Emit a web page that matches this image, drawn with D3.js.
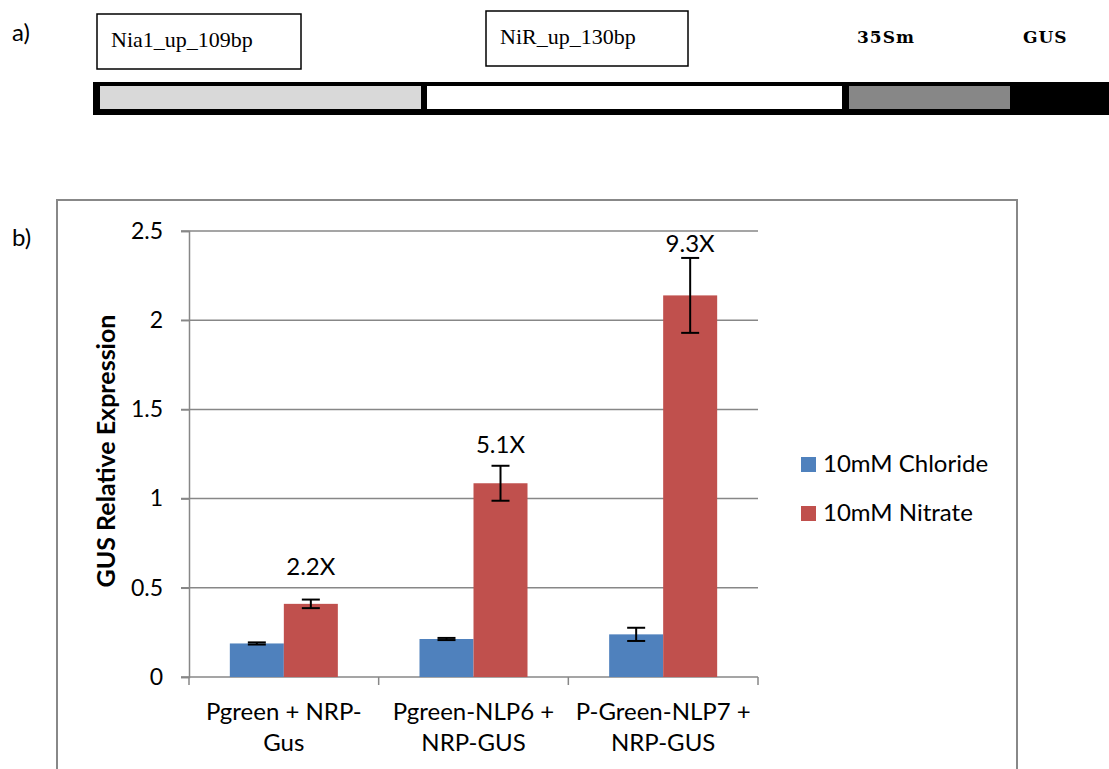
<!DOCTYPE html>
<html>
<head>
<meta charset="utf-8">
<script src="https://d3js.org/d3.v7.min.js"></script>
<style>
body { margin: 0; background: #fff; overflow: hidden; }
text { font-family: Lato, "Open Sans", sans-serif; fill: #000; }
.serif { font-family: "Liberation Serif", serif; }
.bseri { font-family: "DejaVu Serif", serif; font-weight: bold; }
</style>
</head>
<body>
<svg width="1109" height="769" id="vis"></svg>
<script>
// construct diagram (panel a), lengths in arbitrary units along the bar
var partNames = ["Nia1_up_109bp", "NiR_up_130bp", "35Sm", "GUS"];
var partStart = [7, 334, 756, 917];
var partEnd   = [328, 749, 917, 1016];
var partFill  = ["#d9d9d9", "#ffffff", "#878787", "#000000"];

// bar chart (panel b)
var groups   = ["Pgreen + NRP-|Gus", "Pgreen-NLP6 +|NRP-GUS", "P-Green-NLP7 +|NRP-GUS"];
var series   = ["10mM Chloride", "10mM Nitrate"];
var chloride = [0.188, 0.213, 0.239];
var chlorErr = [0.006, 0.006, 0.037];
var nitrate  = [0.410, 1.086, 2.139];
var nitrErr  = [0.024, 0.098, 0.210];
var foldText = ["2.2X", "5.1X", "9.3X"];
var foldAt   = [0.573, 1.256, 2.382];
var yTicks   = [0, 0.5, 1, 1.5, 2, 2.5];

var colors = ["#4f81bd", "#c0504d"];

var svg = d3.select("#vis");

// ---- panel a ----
svg.append("text").text("a)")
  .attr("x", 12).attr("y", 41)
  .attr("font-size", "24px");

var px = d3.scaleLinear().domain([0, 1016]).range([93, 1109]);

svg.append("rect")
  .attr("x", px(0)).attr("y", 82)
  .attr("width", px(1016) - px(0)).attr("height", 33)
  .attr("fill", "#000");

svg.selectAll("rect.part")
  .data(partNames.slice(0, 3))
  .enter().append("rect")
  .attr("class", "part")
  .attr("x", function(d, i) { return px(partStart[i]); })
  .attr("y", 86)
  .attr("width", function(d, i) { return px(partEnd[i]) - px(partStart[i]); })
  .attr("height", 23)
  .attr("fill", function(d, i) { return partFill[i]; });

// boxed labels for the two promoter pieces
var boxX = [97, 486], boxY = [14, 11], boxW = [204, 202];
partNames.slice(0, 2).forEach(function(name, i) {
  svg.append("rect")
    .attr("x", boxX[i]).attr("y", boxY[i])
    .attr("width", boxW[i]).attr("height", 55)
    .attr("fill", "#fff").attr("stroke", "#000").attr("stroke-width", 1.5);
  svg.append("text").attr("class", "serif")
    .text(name)
    .attr("x", boxX[i] + 14).attr("y", boxY[i] + 33)
    .attr("font-size", "22px");
});
svg.append("text").attr("class", "bseri").text(partNames[2])
  .attr("x", 857).attr("y", 43).attr("font-size", "17px")
  .attr("letter-spacing", "1px");
svg.append("text").attr("class", "bseri").text(partNames[3])
  .attr("x", 1023).attr("y", 43).attr("font-size", "17px")
  .attr("letter-spacing", "1px");

// ---- panel b ----
svg.append("text").text("b)")
  .attr("x", 12).attr("y", 246)
  .attr("font-size", "24px");

svg.append("rect")
  .attr("x", 57).attr("y", 200)
  .attr("width", 960).attr("height", 600)
  .attr("fill", "none").attr("stroke", "#888").attr("stroke-width", 2);

var y = d3.scaleLinear().domain([0, 2.5]).range([677, 231]);
var x = d3.scaleBand().domain(groups).range([189, 758]).padding(0);
var xs = d3.scaleBand().domain(series).range([0, x.bandwidth()])
  .paddingInner(0).paddingOuter(0.756);

// gridlines + y ticks
svg.selectAll("line.grid")
  .data(yTicks.slice(1))
  .enter().append("line")
  .attr("x1", 181).attr("x2", 758)
  .attr("y1", function(d) { return y(d); })
  .attr("y2", function(d) { return y(d); })
  .attr("stroke", "#878787").attr("stroke-width", 1.5);

var yAxis = svg.append("g")
  .attr("transform", "translate(189,0)")
  .call(d3.axisLeft(y).tickValues(yTicks).tickSize(8).tickPadding(18)
    .tickFormat(function(d) { return d; }));
yAxis.selectAll("path, line").attr("stroke", "#878787").attr("stroke-width", 1.5);
yAxis.selectAll("text").attr("font-size", "23px")
  .attr("font-family", "Lato, sans-serif").attr("fill", "#000");

// x axis with ticks at band edges
svg.append("line")
  .attr("x1", 181).attr("x2", 758).attr("y1", y(0)).attr("y2", y(0))
  .attr("stroke", "#878787").attr("stroke-width", 1.5);
var edges = groups.map(function(g) { return x(g); }).concat([x(groups[2]) + x.bandwidth()]);
svg.selectAll("line.xtick")
  .data(edges)
  .enter().append("line")
  .attr("x1", function(d) { return d; }).attr("x2", function(d) { return d; })
  .attr("y1", y(0)).attr("y2", y(0) + 8)
  .attr("stroke", "#878787").attr("stroke-width", 1.5);

// bars
var rows = [];
groups.forEach(function(g, i) {
  rows.push({ g: g, s: series[0], v: chloride[i], e: chlorErr[i], c: colors[0] });
  rows.push({ g: g, s: series[1], v: nitrate[i], e: nitrErr[i], c: colors[1] });
});

svg.selectAll("rect.bar")
  .data(rows)
  .enter().append("rect")
  .attr("class", "bar")
  .attr("x", function(d) { return x(d.g) + xs(d.s); })
  .attr("y", function(d) { return y(d.v); })
  .attr("width", xs.bandwidth())
  .attr("height", function(d) { return y(0) - y(d.v); })
  .attr("fill", function(d) { return d.c; });

// error bars
var eb = svg.selectAll("g.err")
  .data(rows)
  .enter().append("g")
  .attr("class", "err")
  .attr("transform", function(d) { return "translate(" + (x(d.g) + xs(d.s) + xs.bandwidth() / 2) + ",0)"; });
eb.append("line")
  .attr("y1", function(d) { return y(d.v + d.e); })
  .attr("y2", function(d) { return y(d.v - d.e); })
  .attr("stroke", "#000").attr("stroke-width", 2);
eb.selectAll("line.cap")
  .data(function(d) { return [d.v + d.e, d.v - d.e]; })
  .enter().append("line")
  .attr("class", "cap")
  .attr("x1", -9).attr("x2", 9)
  .attr("y1", function(d) { return y(d); })
  .attr("y2", function(d) { return y(d); })
  .attr("stroke", "#000").attr("stroke-width", 2);

// fold-change labels above nitrate bars
svg.selectAll("text.fold")
  .data(foldText)
  .enter().append("text")
  .attr("class", "fold")
  .attr("x", function(d, i) { return x(groups[i]) + xs(series[1]) + xs.bandwidth() / 2; })
  .attr("y", function(d, i) { return y(foldAt[i]); })
  .attr("text-anchor", "middle")
  .attr("font-size", "24px")
  .text(function(d) { return d; });

// category labels (two lines)
var cat = svg.selectAll("text.cat")
  .data(groups)
  .enter().append("text")
  .attr("class", "cat")
  .attr("text-anchor", "middle")
  .attr("font-size", "24px");
cat.selectAll("tspan")
  .data(function(d) { return d.split("|").map(function(t) { return { t: t, g: d }; }); })
  .enter().append("tspan")
  .attr("x", function(d) { return x(d.g) + x.bandwidth() / 2; })
  .attr("y", function(d, i) { return 720 + i * 31; })
  .text(function(d) { return d.t; });

// y axis title
svg.append("text")
  .attr("transform", "translate(115,451) rotate(-90)")
  .attr("text-anchor", "middle")
  .attr("font-size", "25px")
  .attr("font-weight", "bold")
  .text("GUS Relative Expression");

// legend
var leg = svg.selectAll("g.leg")
  .data(series)
  .enter().append("g")
  .attr("class", "leg")
  .attr("transform", function(d, i) { return "translate(801," + (457 + i * 49) + ")"; });
leg.append("rect")
  .attr("width", 15).attr("height", 15)
  .attr("fill", function(d, i) { return colors[i]; });
leg.append("text")
  .attr("x", 22).attr("y", 15)
  .attr("font-size", "24px")
  .text(function(d) { return d; });
</script>
</body>
</html>
